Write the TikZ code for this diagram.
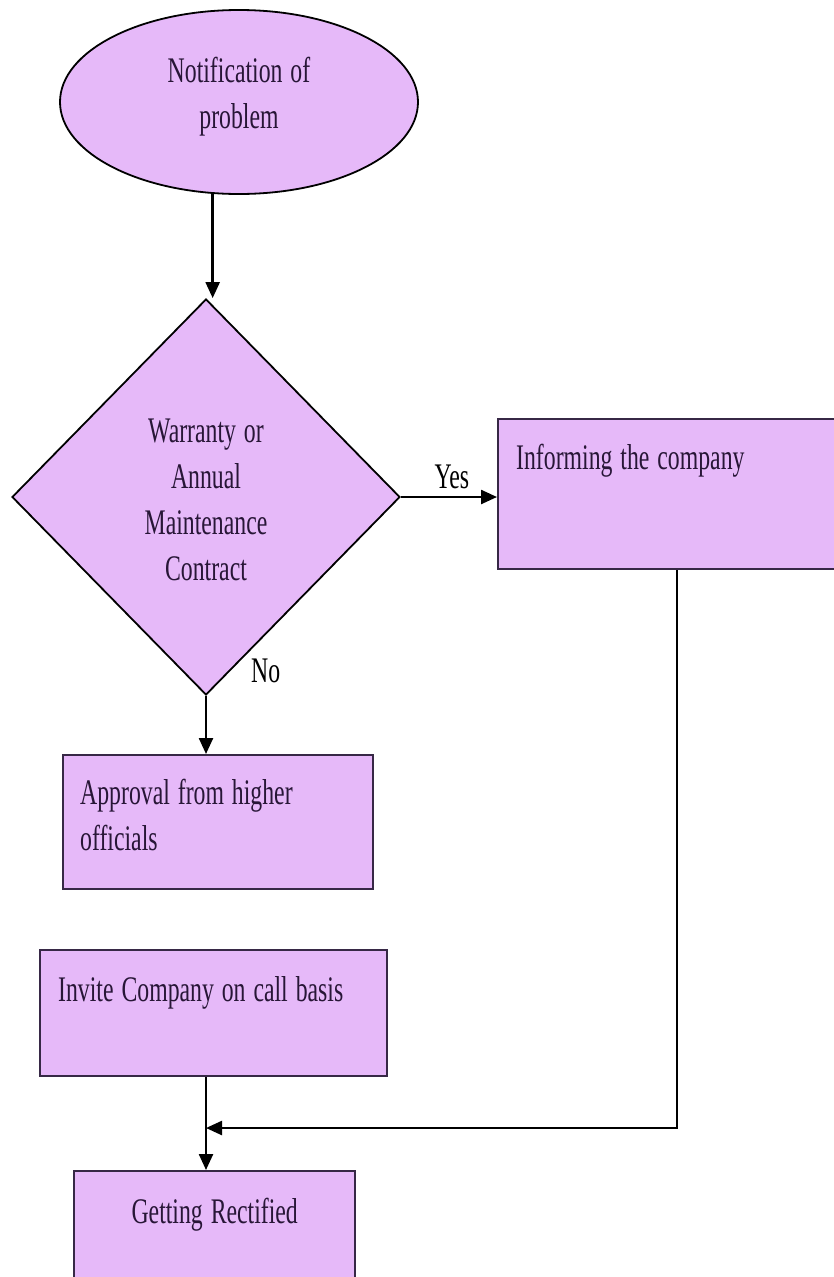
\documentclass[tikz,border=0pt]{standalone}
\usepackage{fontspec}
\usepackage{graphicx}
\setmainfont{Liberation Serif}
\usetikzlibrary{shapes.geometric,arrows.meta}
\definecolor{boxfill}{RGB}{230,185,249}
\definecolor{boxline}{RGB}{55,40,70}
\definecolor{txtc}{RGB}{40,22,55}
\newcommand\sx[1]{\scalebox{0.66}[1]{#1}}
\begin{document}
\begin{tikzpicture}[x=1pt,y=-1pt,
  every node/.style={font=\fontsize{36}{46}\selectfont, text=txtc},
  shapebox/.style={draw=boxline, line width=2.4pt, fill=boxfill, inner sep=0pt},
  rbox/.style={shapebox, rectangle, anchor=north west, align=left, inner xsep=18pt, inner ysep=0pt},
  arr/.style={line width=2.4pt, -{Triangle[length=16pt,width=14pt]}},
  lbl/.style={inner sep=0pt, text=black}]
\fill[white] (0,0) rectangle (834,1277);
\useasboundingbox (0,0) rectangle (834,1277);

\node[shapebox, ellipse, draw=black, line width=1.8pt, minimum width=358pt, minimum height=184pt,
      text width=220pt, align=center, text height=20pt, text depth=60pt] (ell) at (239,102)
      {\sx{Notification of}\\\sx{problem}};

\node[shapebox, diamond, draw=black, line width=1.8pt, minimum width=388pt, minimum height=396pt,
      text width=160pt, align=center, text height=15pt, text depth=125pt] (dia) at (206,497)
      {\sx{Warranty or}\\\sx{Annual}\\\sx{Maintenance}\\\sx{Contract}};

\node[rbox, text width=312pt, text height=50pt, text depth=100pt] (inf) at (497,418)
      {\sx{Informing the company}};

\node[rbox, inner xsep=17pt, text width=276pt, text height=49pt, text depth=85pt] (app) at (62,754)
      {\sx{Approval from higher}\\\sx{officials}};

\node[rbox, text width=311pt, text height=51pt, text depth=75pt] (inv) at (39,949)
      {\sx{Invite Company on call basis}};

\node[shapebox, rectangle, anchor=north west, align=center, inner sep=0pt, text width=281pt,
      text height=52pt, text depth=78pt] (get) at (73,1170)
      {\sx{Getting Rectified}};

\coordinate (m) at (206,1128);

\draw[arr] (ell.254) -- (ell.254 |- dia.north);
\draw[arr] (dia.east) -- node[lbl, anchor=base, yshift=9pt, xshift=3pt]{\sx{Yes}} (inf.west |- dia.east);
\draw[arr] (dia.south) -- node[lbl, anchor=base west, pos=0, xshift=44pt, yshift=13pt]{\sx{No}} (app.north -| dia.south);
\draw[arr] (inv.south -| dia.south) -- (get.north -| dia.south);
\draw[arr] ([xshift=5pt]inf.south) |- (m);
\end{tikzpicture}
\end{document}
